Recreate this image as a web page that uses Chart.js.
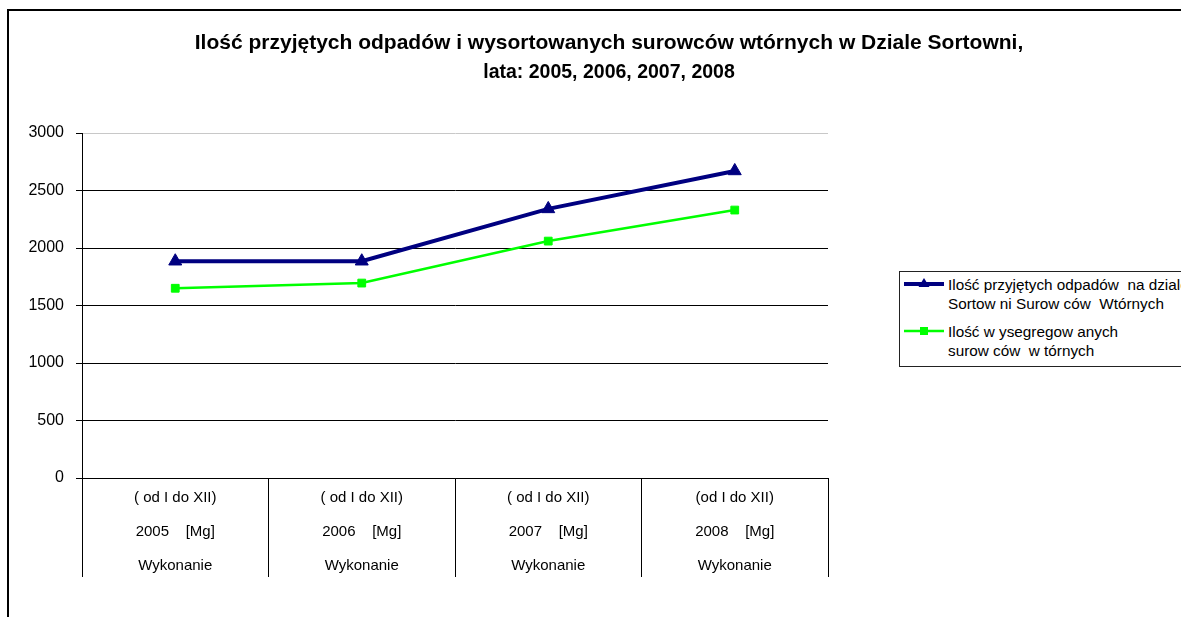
<!DOCTYPE html>
<html lang="pl">
<head>
<meta charset="utf-8">
<title>Ilość przyjętych odpadów</title>
<script src="https://cdn.jsdelivr.net/npm/chart.js@4.4.0/dist/chart.umd.min.js"></script>
<style>
  html, body { margin: 0; padding: 0; background: #fff; overflow: hidden; }
  #wrap { position: relative; width: 1181px; height: 617px; overflow: hidden; }
  #frame { position: absolute; left: 7px; top: 9px; right: -5px; bottom: -5px;
           border-left: 2px solid #000; border-top: 2px solid #000; }
  #wasteChart { position: absolute; left: 0; top: 0; }
  #legend { position: absolute; left: 899px; top: 271px; width: 320px; height: 94px;
            border: 1px solid #222; background: #fff;
            font-family: 'Liberation Sans', Arial, sans-serif; font-size: 15.3px; color: #000; }
  #legend svg { position: absolute; left: 3px; }
  #legend .txt { position: absolute; left: 48px; line-height: 19px; white-space: pre; }
</style>
</head>
<body>
<div id="wrap">
  <div id="frame"></div>
  <canvas id="wasteChart" width="1218" height="617"></canvas>
  <div id="legend"></div>
</div>
<script>
// data
const categories = [
    ['( od I do XII)', '2005    [Mg]', 'Wykonanie'],
    ['( od I do XII)', '2006    [Mg]', 'Wykonanie'],
    ['( od I do XII)', '2007    [Mg]', 'Wykonanie'],
    ['(od I do XII)', '2008    [Mg]', 'Wykonanie']
];
const przyjete = [1885, 1885, 2340, 2670];
const wysegregowane = [1650, 1695, 2060, 2330];
const yTicks = [0, 500, 1000, 1500, 2000, 2500, 3000];

const seriesNames = [
    'Ilość przyjętych odpadów  na dziale\nSortow ni Surow ców  Wtórnych',
    'Ilość w ysegregow anych\nsurow ców  w tórnych'
];
const navy = '#000080';
const lime = '#00ff00';

Chart.defaults.font.family = "'Liberation Sans', Arial, sans-serif";
Chart.defaults.color = '#000';

const ctx = document.getElementById('wasteChart').getContext('2d');
const wasteChart = new Chart(ctx, {
    type: 'line',
    data: {
        labels: categories,
        datasets: [
            {
                label: seriesNames[0],
                data: przyjete,
                borderColor: navy,
                backgroundColor: navy,
                borderWidth: 4,
                pointStyle: 'triangle',
                pointRadius: 7.5,
                pointBorderWidth: 1,
                tension: 0
            },
            {
                label: seriesNames[1],
                data: wysegregowane,
                borderColor: lime,
                backgroundColor: lime,
                borderWidth: 2.5,
                pointStyle: 'rect',
                pointRadius: 5.5,
                pointBorderWidth: 1,
                tension: 0
            }
        ]
    },
    options: {
        responsive: false,
        animation: false,
        layout: { padding: 0 },
        plugins: {
            legend: { display: false },
            tooltip: { enabled: false },
            title: {
                display: true,
                text: 'Ilość przyjętych odpadów i wysortowanych surowców wtórnych w Dziale Sortowni,',
                color: '#000',
                font: { size: 21, weight: 'bold', lineHeight: '30px' },
                padding: { top: 28, bottom: 0 }
            },
            subtitle: {
                display: true,
                text: 'lata: 2005, 2006, 2007, 2008',
                color: '#000',
                font: { size: 19.5, weight: 'bold', lineHeight: '30px' },
                padding: { top: 0, bottom: 45 }
            }
        },
        scales: {
            x: {
                offset: true,
                grid: {
                    offset: true,
                    drawOnChartArea: false,
                    drawTicks: true,
                    tickLength: 99,
                    tickColor: '#000',
                    color: '#000'
                },
                border: { display: true, color: '#000', width: 1 },
                ticks: {
                    autoSkip: false,
                    maxRotation: 0,
                    padding: -96,
                    color: '#000',
                    font: { size: 15, lineHeight: '34px' }
                },
                afterFit: function (s) { s.height = 139; }
            },
            y: {
                min: 0,
                max: 3000,
                afterBuildTicks: function (s) { s.ticks = yTicks.map(v => ({ value: v })); },
                grid: {
                    color: c => (c.tick && c.tick.value === 3000 ? '#c8c8c8' : '#000'),
                    tickColor: '#000',
                    tickLength: 6,
                    lineWidth: 1
                },
                border: { display: true, color: '#000', width: 1 },
                ticks: {
                    padding: 12,
                    color: '#000',
                    font: { size: 16 },
                    callback: v => String(v)
                },
                afterFit: function (s) { s.width = 82; }
            },
            spacer: {
                type: 'linear',
                position: 'right',
                display: true,
                grid: { display: false, drawTicks: false },
                border: { display: false },
                ticks: { display: false },
                afterFit: function (s) { s.width = 390; }
            }
        }
    }
});

// legend drawn beside the chart, using the dataset styles
const legend = document.getElementById('legend');
const legendRows = [
    { top: 274, lineY: 12, marker: 'triangle' },
    { top: 321, lineY: 12, marker: 'rect' }
];
wasteChart.data.datasets.forEach(function (ds, i) {
    const row = legendRows[i];
    const svgNs = 'http://www.w3.org/2000/svg';
    const svg = document.createElementNS(svgNs, 'svg');
    svg.setAttribute('width', '42');
    svg.setAttribute('height', '24');
    svg.style.top = (row.top - 271 - 3) + 'px';
    const line = document.createElementNS(svgNs, 'line');
    line.setAttribute('x1', '1'); line.setAttribute('x2', '41');
    line.setAttribute('y1', row.lineY); line.setAttribute('y2', row.lineY);
    line.setAttribute('stroke', ds.borderColor);
    line.setAttribute('stroke-width', ds.borderWidth);
    svg.appendChild(line);
    let mark;
    if (row.marker === 'triangle') {
        mark = document.createElementNS(svgNs, 'polygon');
        mark.setAttribute('points', '21,' + (row.lineY - 6) + ' 26.5,' + (row.lineY + 3) + ' 15.5,' + (row.lineY + 3));
    } else {
        mark = document.createElementNS(svgNs, 'rect');
        mark.setAttribute('x', '17'); mark.setAttribute('y', row.lineY - 4);
        mark.setAttribute('width', '8'); mark.setAttribute('height', '8');
    }
    mark.setAttribute('fill', ds.backgroundColor);
    svg.appendChild(mark);
    legend.appendChild(svg);

    const txt = document.createElement('div');
    txt.className = 'txt';
    txt.style.top = (row.top - 271) + 'px';
    txt.textContent = ds.label;
    legend.appendChild(txt);
});
</script>
</body>
</html>
